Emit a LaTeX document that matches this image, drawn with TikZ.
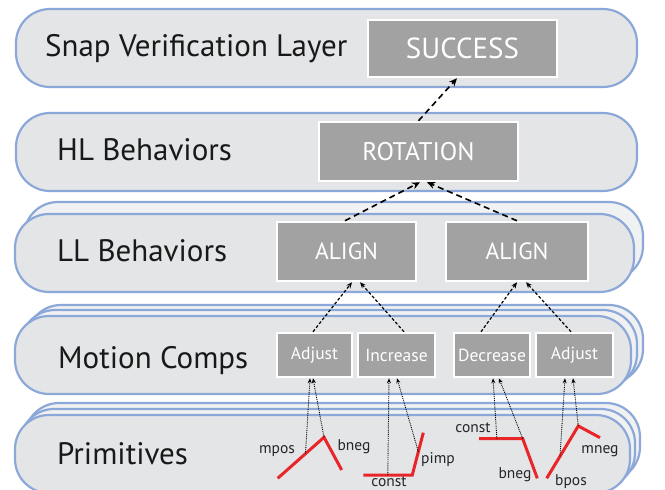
\documentclass[tikz,border=0pt]{standalone}
\usepackage{fontspec}
\setmainfont{PT Sans}
\usetikzlibrary{arrows.meta,calc}
\definecolor{bandblue}{HTML}{8CA8D8}
\definecolor{bandgray}{HTML}{E4E5E7}
\definecolor{boxgray}{HTML}{A2A2A2}
\definecolor{primred}{HTML}{E8262A}
\begin{document}
\begin{tikzpicture}[x=1pt,y=-1pt,
  band/.style={draw=bandblue, line width=2.2pt, fill=bandgray, rounded corners=34pt, minimum height=78pt, inner sep=0pt},
  backband/.style={band, fill=bandgray!55!white},
  lbl/.style={font=\fontsize{31}{33}\selectfont, text=black!90, anchor=base west, inner sep=0pt},
  bx/.style={draw=white, line width=2.5pt, fill=boxgray, text=white, inner sep=0pt},
  mc/.style={bx, minimum height=44pt, font=\fontsize{17.5}{19}\selectfont},
  prim/.style={draw=primred, line width=3pt},
  plbl/.style={font=\fontsize{15.5}{17}\selectfont, text=black!85, inner sep=0pt, anchor=base},
  dt/.style={densely dotted, line width=0.9pt, -{Stealth[length=5pt,width=4pt]}},
  dsmall/.style={dash pattern=on 3pt off 2pt, line width=1.2pt, -{Stealth[length=6pt,width=5pt]}},
  dbig/.style={dash pattern=on 6pt off 4pt, line width=1.6pt, -{Stealth[length=8pt,width=7pt]}},
]
\useasboundingbox (0,0) rectangle (665,490);
\clip (0,0) rectangle (665,490);

% bands
\node[band, minimum width=621pt] (b1) at (326.5,48) {};
\node[band, minimum width=621pt] (b2) at (326.5,152) {};
\node[backband, minimum width=619pt] (b3b) at (333.5,241) {};
\node[band, minimum width=619pt] (b3) at (324.5,253) {};
\node[backband, minimum width=616pt] (b4c) at (335,344) {};
\node[backband, minimum width=616pt] (b4b) at (329,349) {};
\node[band, minimum width=616pt] (b4) at (323,355) {};
\node[backband, minimum width=615pt] (b5c) at (332.5,442) {};
\node[backband, minimum width=615pt] (b5b) at (327.5,448) {};
\node[band, minimum width=615pt] (b5) at (322.5,454) {};

% band labels
\node[lbl] (t1) at (45,56) {Snap Verification Layer};
\node[lbl] (t2) at (57,160) {HL Behaviors};
\node[lbl] (t3) at (57,261) {LL Behaviors};
\node[lbl] (t4) at (58,368) {Motion Comps};
\node[lbl] (t5) at (57,464) {Primitives};

% boxes
\node[bx, minimum width=189pt, minimum height=57pt, font=\fontsize{29}{31}\selectfont] (succ) at (462.5,48.5) {SUCCESS};
\node[bx, minimum width=199pt, minimum height=59pt, font=\fontsize{25.5}{27}\selectfont] (rot) at (418.5,151.5) {ROTATION};
\node[bx, minimum width=139pt, minimum height=59pt, font=\fontsize{23.5}{25}\selectfont] (al1) at (346.5,251.5) {ALIGN};
\node[bx, minimum width=142pt, minimum height=59pt, font=\fontsize{23.5}{25}\selectfont] (al2) at (517,251.5) {ALIGN};
\node[mc, minimum width=75pt] (adj1) at (314.5,355) {Adjust};
\node[mc, minimum width=77pt] (inc) at (396.5,355) {Increase};
\node[mc, minimum width=76pt] (dec) at (492,355) {Decrease};
\node[mc, minimum width=77pt] (adj2) at (574.5,355) {Adjust};

% primitives
\coordinate (m1) at (277.7,478.3); \coordinate (m2) at (324,437.3); \coordinate (m3) at (341.7,470);
\coordinate (c1) at (363.3,475); \coordinate (c2) at (412.3,475); \coordinate (c3) at (423.3,432.7);
\coordinate (d1) at (479,438.7); \coordinate (d2) at (522.7,438.7); \coordinate (d3) at (537.3,478.3);
\coordinate (e1) at (546.7,478.3); \coordinate (e2) at (578.3,426); \coordinate (e3) at (600,437.7);
\draw[prim] (m1) -- (m2) -- (m3);
\draw[prim] (c1) -- (c2) -- (c3);
\draw[prim] (d1) -- (d2) -- (d3);
\draw[prim] (e1) -- (e2) -- (e3);

\node[plbl] (lmpos) at (277,453) {mpos};
\node[plbl] (lbneg1) at (354,450) {bneg};
\node[plbl] (lconst1) at (389,486) {const};
\node[plbl] (lpimp) at (438,463) {pimp};
\node[plbl] (lconst2) at (473,432) {const};
\node[plbl] (lbneg2) at (515,478) {bneg};
\node[plbl] (lbpos) at (571,485) {bpos};
\node[plbl] (lmneg) at (600,453) {mneg};

% dotted arrows primitives -> motion comps
\draw[dt] ($(m1)!0.6!(m2)$) -- ([xshift=-4.5pt]adj1.south);
\draw[dt] (m2) -- ([xshift=-1.5pt]adj1.south);
\draw[dt] ($(c1)!0.5!(c2)$) -- ([xshift=-7.5pt]inc.south);
\draw[dt] ($(c2)!0.55!(c3)$) -- ([xshift=0.5pt]inc.south);
\draw[dt] ($(d1)!0.41!(d2)$) -- ([xshift=1pt]dec.south);
\draw[dt] (d2) -- ([xshift=7pt]dec.south);
\draw[dt] ($(e1)!0.42!(e2)$) -- ([xshift=-9.5pt]adj2.south);
\draw[dt] (e2) -- ([xshift=-1.5pt]adj2.south);

% dashed arrows motion comps -> align
\draw[dsmall] ([xshift=-1.5pt]adj1.north) -- ([xshift=5.5pt]al1.south);
\draw[dsmall] ([xshift=7.5pt]inc.north) -- ([xshift=13.5pt]al1.south);
\draw[dsmall] ([xshift=-11pt]dec.north) -- (al2.south);
\draw[dsmall] ([xshift=-3.5pt]adj2.north) -- ([xshift=9pt]al2.south);

% dashed arrows align -> rotation -> success
\draw[dbig] ([xshift=-1.5pt]al1.north) -- ([xshift=1.5pt]rot.south);
\draw[dbig] (al2.north) -- ([xshift=8.5pt]rot.south);
\draw[dbig] (rot.north) -- ([xshift=-5.5pt]succ.south);
\end{tikzpicture}
\end{document}
